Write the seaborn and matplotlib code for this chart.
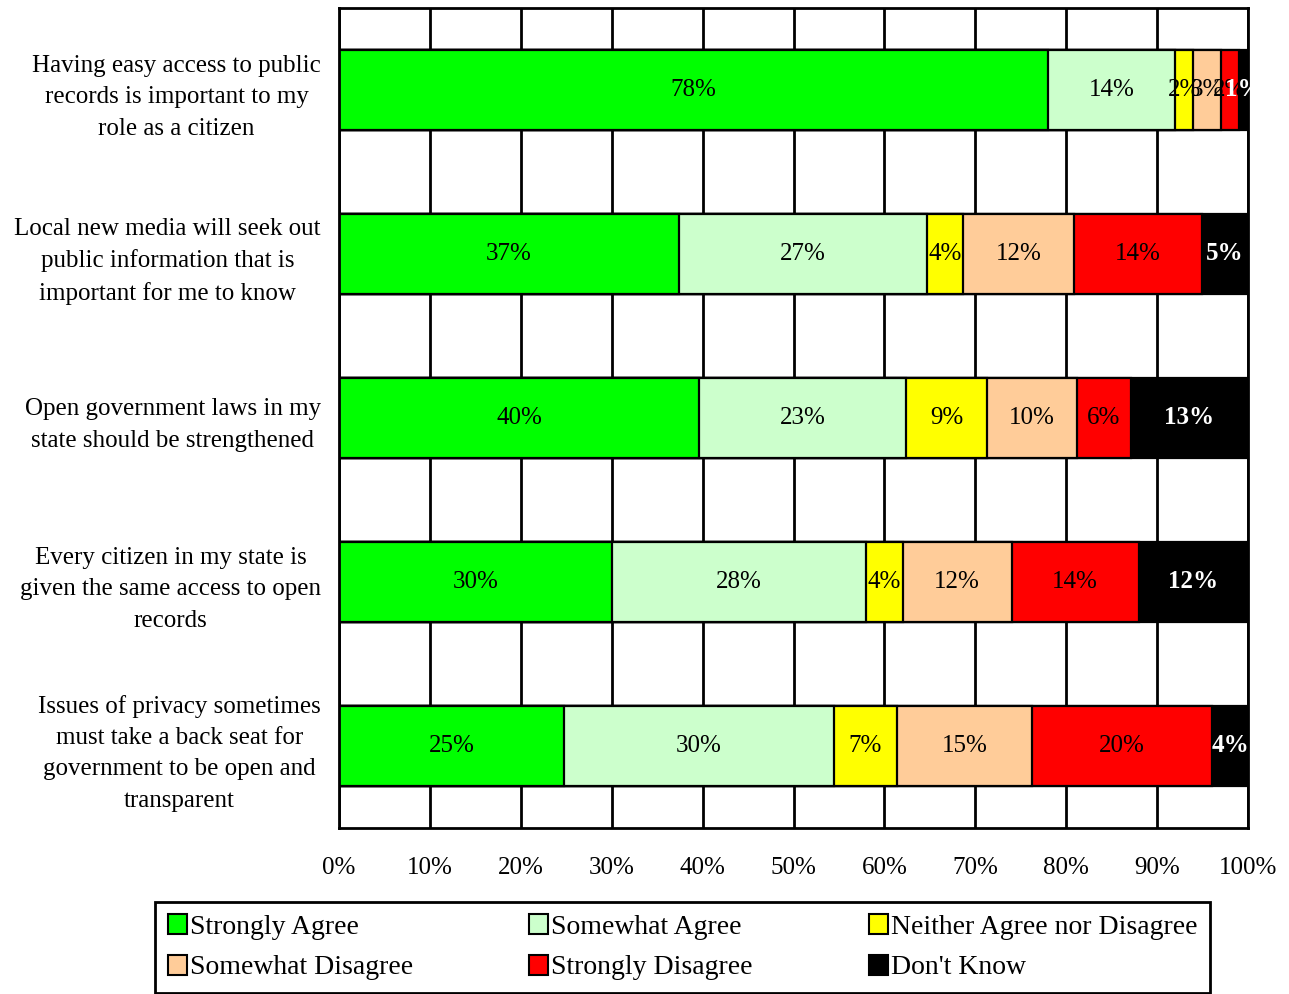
import numpy as np
import pandas as pd
import seaborn as sns
import matplotlib.pyplot as plt
from matplotlib.patches import Patch

categories = [
    "Having easy access to public\nrecords is important to my\nrole as a citizen",
    "Local new media will seek out\npublic information that is\nimportant for me to know",
    "Open government laws in my\nstate should be strengthened",
    "Every citizen in my state is\ngiven the same access to open\nrecords",
    "Issues of privacy sometimes\nmust take a back seat for\ngovernment to be open and\ntransparent",
]
series_names = ["Strongly Agree", "Somewhat Agree", "Neither Agree nor Disagree",
                "Somewhat Disagree", "Strongly Disagree", "Don't Know"]
strongly_agree = [78, 37, 40, 30, 25]
somewhat_agree = [14, 27, 23, 28, 30]
neither = [2, 4, 9, 4, 7]
somewhat_disagree = [3, 12, 10, 12, 15]
strongly_disagree = [2, 14, 6, 14, 20]
dont_know = [1, 5, 13, 12, 4]
colors = ["#00FF00", "#CCFFCC", "#FFFF00", "#FFCC99", "#FF0000", "#000000"]
xtick_values = [0, 10, 20, 30, 40, 50, 60, 70, 80, 90, 100]
xtick_labels = ["0%", "10%", "20%", "30%", "40%", "50%", "60%", "70%", "80%", "90%", "100%"]

sns.set_theme(style="white")
plt.rcParams['font.family'] = ['Liberation Serif', 'DejaVu Serif']
plt.rcParams['text.color'] = 'black'
plt.rcParams['xtick.color'] = 'black'
plt.rcParams['ytick.color'] = 'black'

df = pd.DataFrame({
    series_names[0]: strongly_agree,
    series_names[1]: somewhat_agree,
    series_names[2]: neither,
    series_names[3]: somewhat_disagree,
    series_names[4]: strongly_disagree,
    series_names[5]: dont_know,
}, index=categories)
shares = df.div(df.sum(axis=1), axis=0) * 100
cum = shares.cumsum(axis=1)

W, H = 1289, 994
fig = plt.figure(figsize=(W / 100, H / 100), dpi=100)
ax = fig.add_axes([339 / W, 1 - 828 / H, (1248 - 339) / W, 820 / H])
ax.set_axisbelow(True)

for i in reversed(range(len(series_names))):
    d = pd.DataFrame({"cat": categories, "val": cum.iloc[:, i].values})
    sns.barplot(data=d, x="val", y="cat", order=categories, orient="h",
                color=colors[i], saturation=1, width=0.49, edgecolor="black",
                linewidth=1.6, errorbar=None, ax=ax)

fs = 18
for i, name in enumerate(series_names):
    for j, cat in enumerate(categories):
        val = df.loc[cat, name]
        xc = cum.loc[cat, name] - shares.loc[cat, name] / 2
        if name == "Don't Know":
            ax.text(xc, j, f"{val:.0f}%", ha="center", va="center", color="white",
                    fontsize=fs, fontweight="bold", zorder=5)
        else:
            ax.text(xc, j, f"{val:.0f}%", ha="center", va="center", color="black",
                    fontsize=fs, zorder=5)

ax.set_xlim(0, 100)
ax.set_ylim(4.5, -0.5)
ax.set_xlabel("")
ax.set_ylabel("")
ax.set_xticks(xtick_values)
ax.set_xticklabels(xtick_labels, fontsize=fs)
ax.set_yticks(range(len(categories)))
ax.set_yticklabels(categories, fontsize=fs)
for t in ax.get_yticklabels():
    t.set_multialignment("center")
    t.set_linespacing(1.55)
ax.set_yticks(np.arange(-0.5, len(categories), 1), minor=True)
ax.tick_params(axis="y", which="major", length=0, pad=13, colors="black")
ax.tick_params(axis="y", which="minor", length=6, width=2, color="black", direction="out")
ax.tick_params(axis="x", which="major", length=6, width=2, color="black", direction="out",
               pad=15, labelcolor="black")
ax.xaxis.grid(True, color="black", linewidth=2)
ax.yaxis.grid(False)
for s in ax.spines.values():
    s.set_visible(True)
    s.set_color("black")
    s.set_linewidth(2)

# legend entries listed row by row (matplotlib fills columns first)
order = [0, 3, 1, 4, 2, 5]
handles = [Patch(facecolor=colors[k], edgecolor="black", linewidth=1.5) for k in order]
labels = [series_names[k] for k in order]
leg = fig.legend(handles, labels, ncol=3, loc="lower left",
                 bbox_to_anchor=(155 / W, 1 / H, 1055 / W, 90 / H), mode="expand",
                 fontsize=20, frameon=True, fancybox=False, edgecolor="black",
                 framealpha=1, facecolor="white",
                 handlelength=0.7, handleheight=0.7, handletextpad=0.1,
                 labelspacing=0.55, borderaxespad=0, borderpad=0.45)
leg.get_frame().set_linewidth(2)
for t in leg.get_texts():
    t.set_color("black")

fig.savefig("out.png", dpi=100)
